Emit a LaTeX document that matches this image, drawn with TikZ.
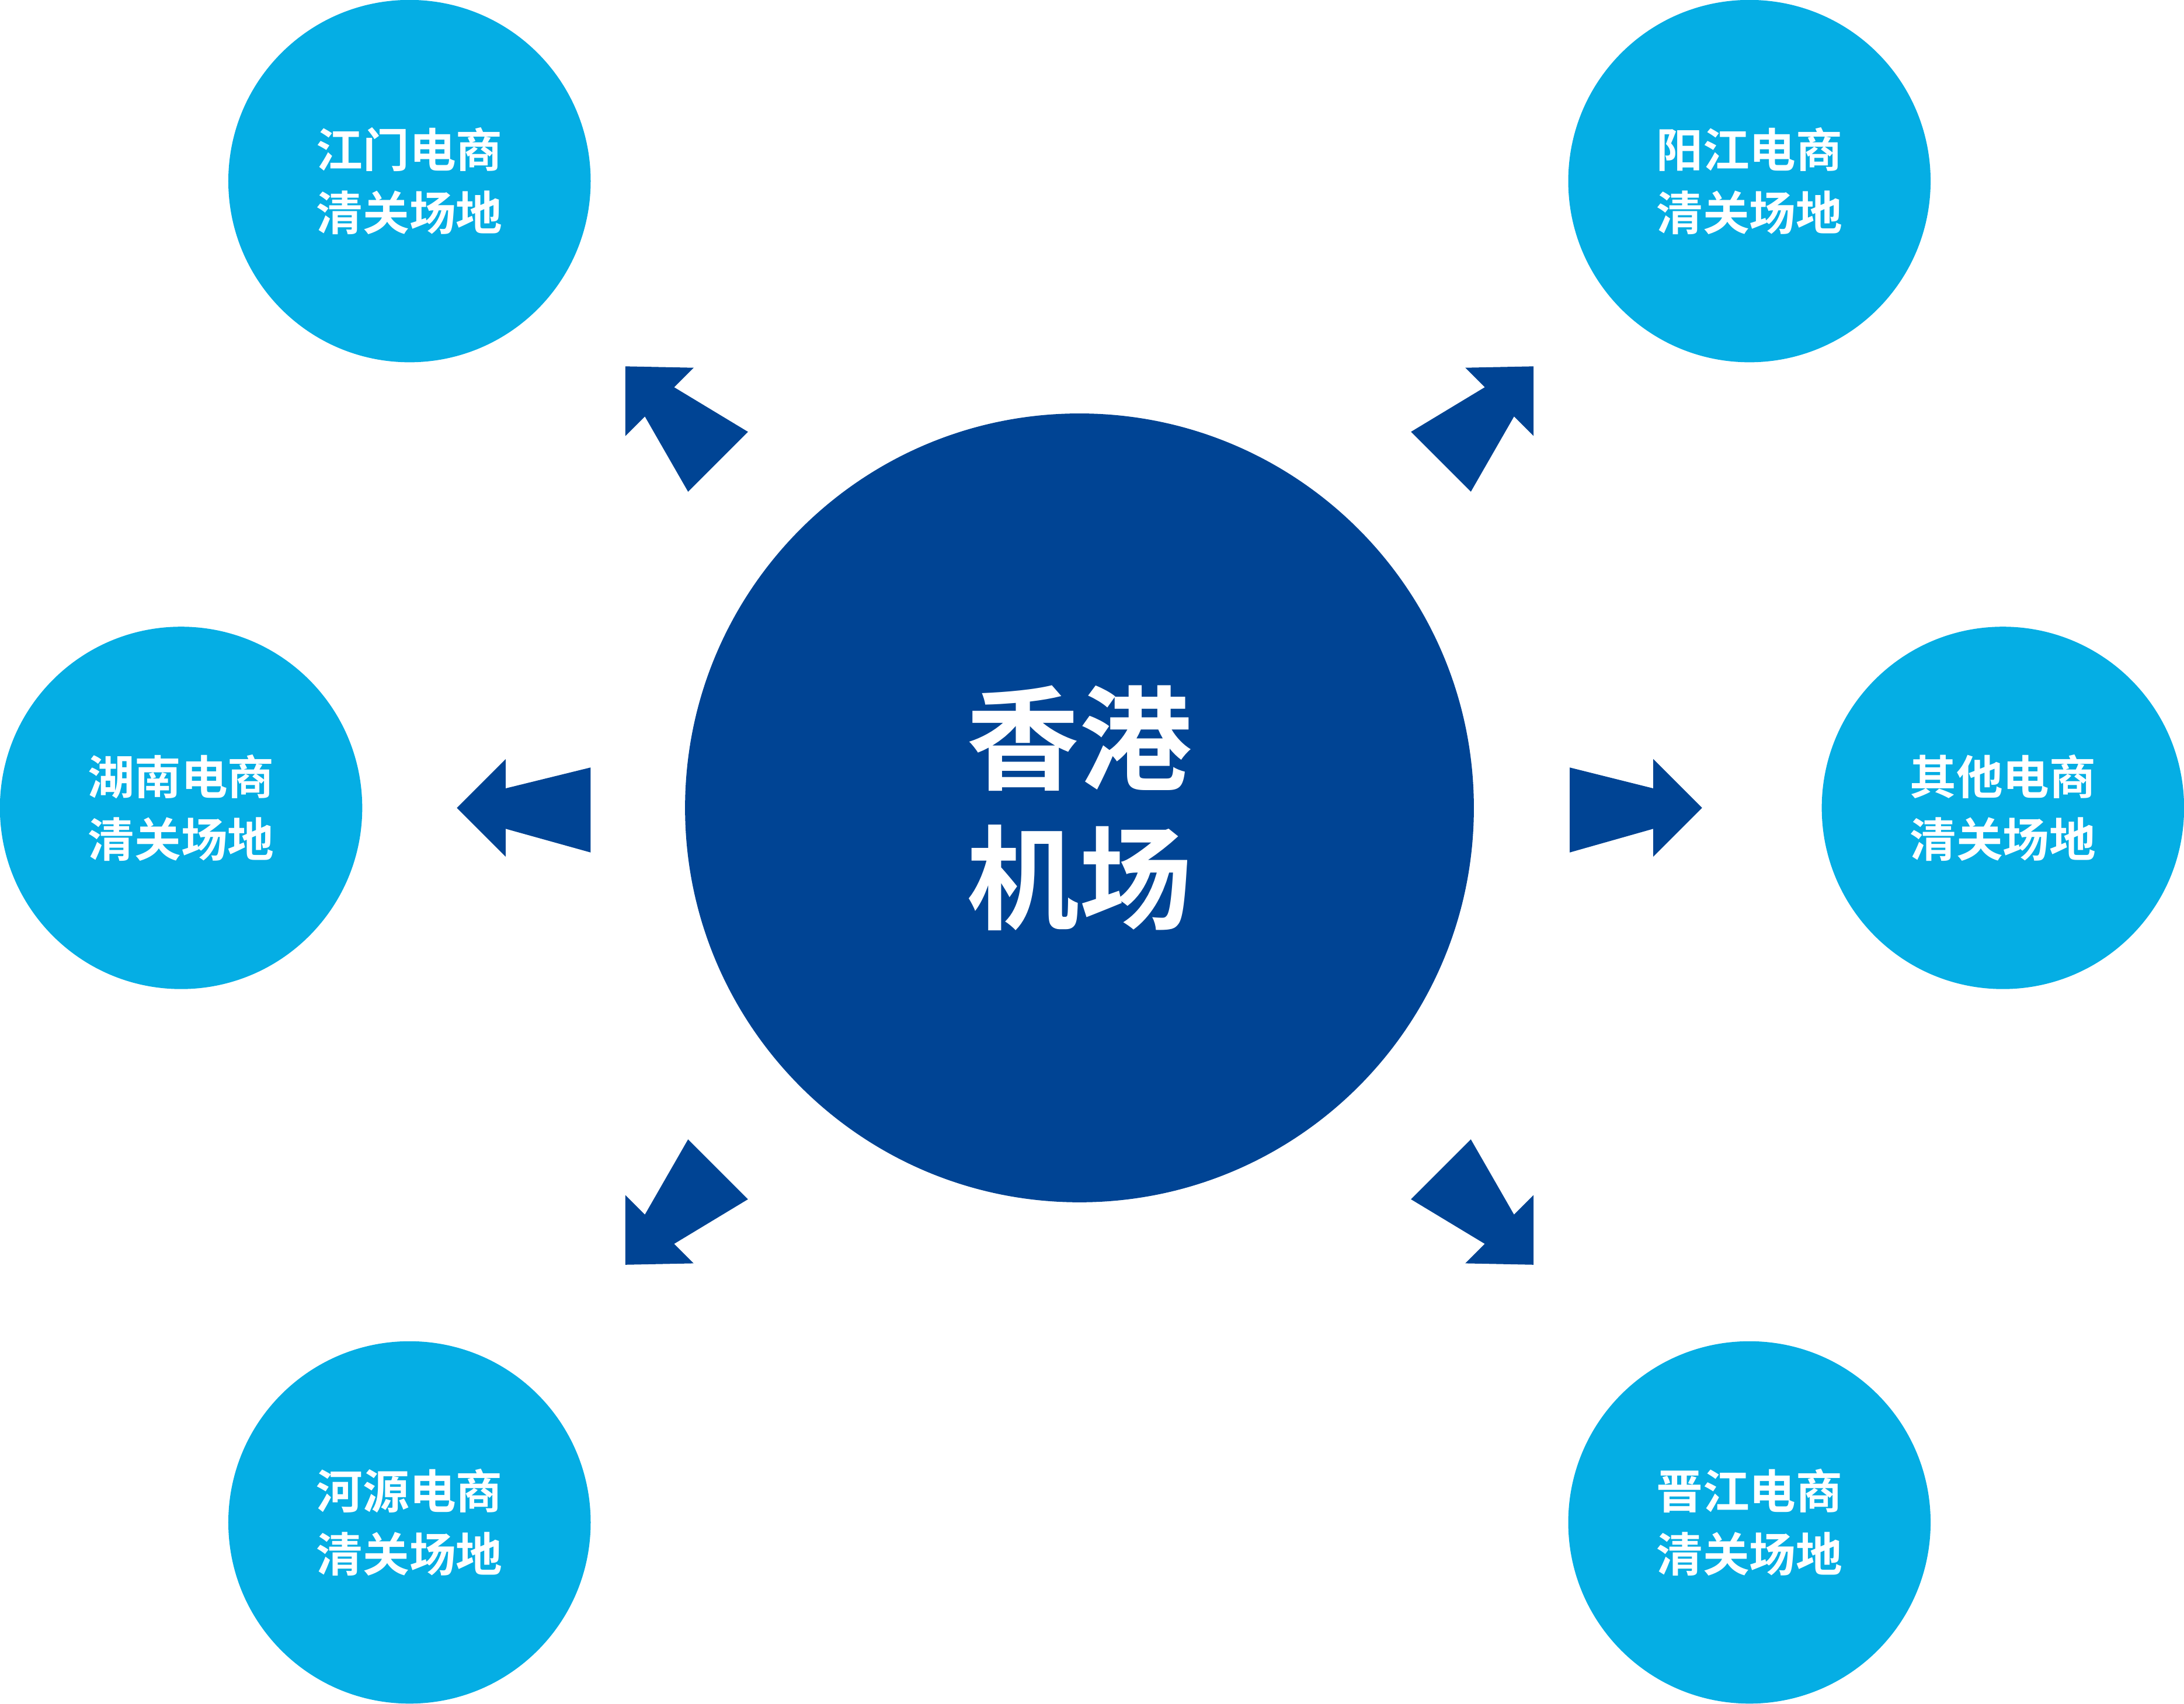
\documentclass[tikz,border=0pt]{standalone}
\usepackage{fontspec}
\newfontfamily\cjk{Noto Sans CJK SC Bold}
\definecolor{dark}{HTML}{004494}
\definecolor{light}{HTML}{05AEE4}
\begin{document}
\begin{tikzpicture}[x=0.01cm,y=-0.01cm,
  small/.style={circle,fill=light,minimum size=2.6cm,inner sep=0pt,text=white,font=\cjk\fontsize{9.5}{12.8}\selectfont,align=center},
  arr/.style={fill=dark}]
\useasboundingbox (0,0) rectangle (1568,1223);
\node[circle,fill=dark,minimum size=5.66cm,inner sep=0pt,text=white,font=\cjk\fontsize{23}{28.5}\selectfont,align=center] (hk) at (775,580) {香港\\机场};
\node[small] (a) at (294,130) {江门电商\\清关场地};
\node[small] (b) at (1256,130) {阳江电商\\清关场地};
\node[small] (c) at (130,580) {湖南电商\\清关场地};
\node[small] (d) at (1438,580) {其他电商\\清关场地};
\node[small] (e) at (294,1093) {河源电商\\清关场地};
\node[small] (f) at (1256,1093) {晋江电商\\清关场地};
% left / right
\fill[arr] (424,551)--(363,566)--(363,545)--(328,580)--(363,615)--(363,595)--(424,612)--cycle;
\fill[arr] (1127,551)--(1187,566)--(1187,545)--(1222,580)--(1187,615)--(1187,595)--(1127,612)--cycle;
% diagonals
\fill[arr] (537,310)--(484,278)--(498,264)--(449,263)--(449,313)--(463,299)--(494,353)--cycle;
\fill[arr] (1013,310)--(1066,278)--(1052,264)--(1101,263)--(1101,313)--(1087,299)--(1056,353)--cycle;
\fill[arr] (537,861)--(484,893)--(498,907)--(449,908)--(449,858)--(463,872)--(494,818)--cycle;
\fill[arr] (1013,861)--(1066,893)--(1052,907)--(1101,908)--(1101,858)--(1087,872)--(1056,818)--cycle;
\end{tikzpicture}
\end{document}
